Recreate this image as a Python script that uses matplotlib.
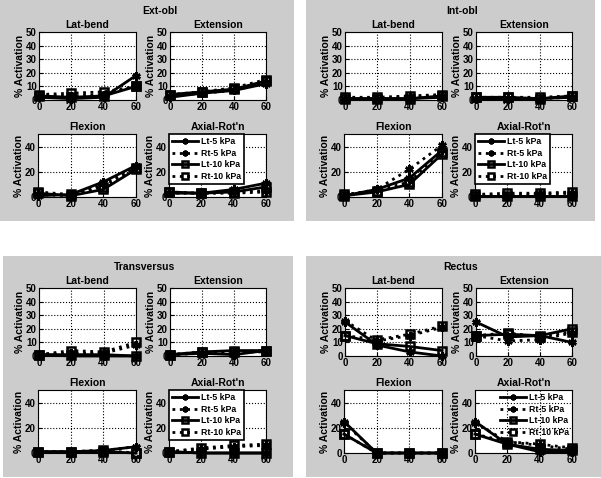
import matplotlib
matplotlib.use("Agg")
import matplotlib.pyplot as plt
from matplotlib.patches import Rectangle

plt.rcParams['font.family'] = ['Liberation Sans', 'DejaVu Sans']
plt.rcParams['font.weight'] = 'bold'

angles = [0, 20, 40, 60]
series_labels = ['Lt-5 kPa', 'Rt-5 kPa', 'Lt-10 kPa', 'Rt-10 kPa']
muscles = ['Ext-obl', 'Int-obl', 'Transversus', 'Rectus']
tasks = ['Lat-bend', 'Extension', 'Flexion', "Axial-Rot'n"]
x_ticks = [0, 20, 40, 60]
y_ticks_top = [0, 10, 20, 30, 40, 50]
y_ticks_bottom = [0, 20, 40]

# data[muscle][task] = [Lt-5, Rt-5, Lt-10, Rt-10]
ext_obl_latbend = [[2, 1, 2, 18], [3, 3, 4, 10], [3, 2, 3, 10], [4, 5, 6, 10]]
ext_obl_extension = [[2, 5, 7, 12], [3, 5, 7, 13], [4, 6, 8, 14], [4, 6, 9, 15]]
ext_obl_flexion = [[1, 2, 12, 25], [2, 1, 10, 24], [3, 1, 6, 22], [4, 2, 8, 23]]
ext_obl_axial = [[3, 3, 6, 11], [3, 3, 4, 5], [4, 3, 4, 8], [4, 3, 3, 4]]

int_obl_latbend = [[1, 1, 1, 2], [1, 1, 2, 3], [1, 1, 1, 3], [2, 2, 3, 4]]
int_obl_extension = [[1, 1, 1, 2], [1, 1, 1, 2], [2, 2, 1, 3], [2, 2, 2, 3]]
int_obl_flexion = [[1, 6, 15, 37], [1, 6, 22, 41], [1, 4, 10, 34], [2, 5, 12, 36]]
int_obl_axial = [[1, 1, 1, 1], [1, 1, 2, 3], [1, 1, 1, 1], [2, 3, 3, 4]]

trans_latbend = [[1, 0, 0, 0], [1, 2, 2, 8], [1, 1, 1, 0], [1, 4, 3, 10]]
trans_extension = [[1, 2, 1, 4], [1, 2, 3, 3], [1, 3, 4, 4], [1, 3, 3, 4]]
trans_flexion = [[1, 1, 2, 5], [1, 1, 2, 5], [1, 1, 1, 0], [1, 1, 2, 0]]
trans_axial = [[1, 0, 0, 0], [1, 3, 5, 6], [1, 0, 0, 0], [1, 4, 6, 7]]

rectus_latbend = [[25, 8, 3, 0], [26, 11, 15, 21], [15, 9, 7, 4], [15, 12, 16, 22]]
rectus_extension = [[25, 14, 15, 10], [15, 11, 12, 17], [15, 16, 15, 20], [15, 17, 14, 18]]
rectus_flexion = [[25, 0, 0, 0], [24, 0, 0, 0], [15, 0, 0, 0], [15, 0, 0, 0]]
rectus_axial = [[25, 7, 1, 1], [24, 9, 6, 3], [15, 7, 3, 2], [15, 9, 7, 4]]

data = {
    'Ext-obl': [ext_obl_latbend, ext_obl_extension, ext_obl_flexion, ext_obl_axial],
    'Int-obl': [int_obl_latbend, int_obl_extension, int_obl_flexion, int_obl_axial],
    'Transversus': [trans_latbend, trans_extension, trans_flexion, trans_axial],
    'Rectus': [rectus_latbend, rectus_extension, rectus_flexion, rectus_axial],
}

W, H = 601, 478
fig = plt.figure(figsize=(W / 100, H / 100), dpi=100)
fig.patch.set_facecolor('white')

# panel gray boxes (pixels: x0, y0, x1, y1)
panel_boxes = [(0, 0, 294, 221), (306, 0, 595, 221), (3, 256, 293, 477), (306, 256, 601, 477)]
panel_offsets = [(0, 0), (306, 0), (0, 256), (306, 256)]
title_x = [160, 462, 145, 461]
for (x0, y0, x1, y1) in panel_boxes:
    fig.patches.append(Rectangle((x0 / W, 1 - y1 / H), (x1 - x0) / W, (y1 - y0) / H,
                                 transform=fig.transFigure, facecolor='#cccccc',
                                 edgecolor='none', zorder=-10))

# subplot boxes relative to panel (x0, x1, ytop, ybottom)
sub_boxes = [(39, 136, 32, 100), (170, 266, 32, 100), (38, 136, 134, 197), (169, 266, 134, 197)]

asterisk = (6, 2, 0)
styles = [dict(ls='-', marker=asterisk, ms=6), dict(ls=':', marker=asterisk, ms=6),
          dict(ls='-', marker='s', ms=6), dict(ls=':', marker='s', ms=6)]

for pi, m in enumerate(muscles):
    ox, oy = panel_offsets[pi]
    fig.text(title_x[pi] / W, 1 - (oy + 11) / H, m, ha='center', va='center',
             fontsize=7.5, fontweight='bold')
    for ti, t in enumerate(tasks):
        bx0, bx1, by0, by1 = sub_boxes[ti]
        ax = fig.add_axes([(ox + bx0) / W, 1 - (oy + by1) / H, (bx1 - bx0) / W, (by1 - by0) / H])
        for si, lab in enumerate(series_labels):
            st = styles[si]
            ax.plot(angles, data[m][ti][si], color='black', lw=2, ls=st['ls'],
                    marker=st['marker'], ms=st['ms'], mew=1.8, mfc='none', mec='black',
                    label=lab, clip_on=False)
        ax.set_xlim(0, 60)
        ax.set_ylim(0, 50)
        ax.set_xticks(x_ticks)
        ax.set_yticks(y_ticks_top if ti < 2 else y_ticks_bottom)
        ax.grid(True, color='black', ls=':', lw=0.8)
        ax.tick_params(direction='in', length=3, pad=1.5, labelsize=7, width=0.8)
        for lbl in ax.get_xticklabels() + ax.get_yticklabels():
            lbl.set_fontweight('bold')
        ax.set_title(t, fontsize=7.5, fontweight='bold', pad=3)
        ax.set_ylabel('% Activation', fontsize=7.5, fontweight='bold', labelpad=1)
        for sp in ax.spines.values():
            sp.set_linewidth(0.8)
        if ti == 3:
            loc = 'upper right' if m == 'Rectus' else 'upper left'
            alpha = 0.0 if m == 'Rectus' else 1.0
            leg = ax.legend(loc=loc, fontsize=6.3, framealpha=alpha, markerscale=0.7,
                            handlelength=3.0, borderpad=0.35, labelspacing=0.3,
                            handletextpad=0.3, borderaxespad=0, fancybox=False)
            leg.get_frame().set_edgecolor('black')
            leg.get_frame().set_linewidth(1.2)
            for txt in leg.get_texts():
                txt.set_fontweight('bold')

fig.savefig('out.png', dpi=100, facecolor='white')
